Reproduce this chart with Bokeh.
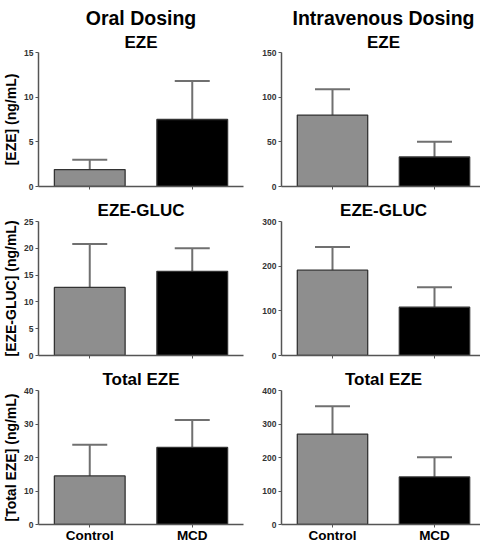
from bokeh.plotting import figure
from bokeh.layouts import gridplot
from bokeh.models import ColumnDataSource, Whisker, TeeHead, Title, FactorRange, Range1d, FixedTicker
from bokeh.embed import file_html
from bokeh.resources import INLINE

groups = ["Control", "MCD"]
bar_colors = ["#8e8e8e", "#000000"]

col_titles = ["Oral Dosing", "Intravenous Dosing"]
panel_titles = ["EZE", "EZE-GLUC", "Total EZE"]
y_labels = ["[EZE] (ng/mL)", "[EZE-GLUC] (ng/mL)", "[Total EZE] (ng/mL)"]

oral_eze_mean = [1.9, 7.5]
oral_eze_upper = [3.0, 11.8]
iv_eze_mean = [80, 33]
iv_eze_upper = [109, 50]
oral_gluc_mean = [12.7, 15.7]
oral_gluc_upper = [20.8, 20.0]
iv_gluc_mean = [191, 108]
iv_gluc_upper = [243, 153]
oral_total_mean = [14.5, 23.0]
oral_total_upper = [23.8, 31.2]
iv_total_mean = [270, 142]
iv_total_upper = [353, 201]

oral_eze_ticks = [0, 5, 10, 15]
iv_eze_ticks = [0, 50, 100, 150]
oral_gluc_ticks = [0, 5, 10, 15, 20, 25]
iv_gluc_ticks = [0, 100, 200, 300]
oral_total_ticks = [0, 10, 20, 30, 40]
iv_total_ticks = [0, 100, 200, 300, 400]

FONT = "Liberation Sans"
AX = "#555555"
ERR = "#707070"

FRAME_W = [205, 204]
BORDER_L = [33, 36]
BORDER_R = [2, 0]
FRAME_H = 134
TOP_B = [52, 28, 27]
BOT_B = [7, 8, 16]
TITLE_STANDOFF = [1, 4, 3]


def make_panel(mean, upper, ticks, title, row, col, col_title=None, ylabel=None, show_x=False):
    p = figure(frame_width=FRAME_W[col], frame_height=FRAME_H,
               x_range=FactorRange(factors=groups),
               y_range=Range1d(ticks[0], ticks[-1]), output_backend="svg",
               toolbar_location=None, title=col_title if col_title else title,
               min_border_left=BORDER_L[col], min_border_right=BORDER_R[col],
               min_border_top=TOP_B[row], min_border_bottom=BOT_B[row])
    p.title.align = "center"
    p.title.text_font = FONT
    p.title.text_font_style = "bold"
    p.title.text_color = "#000000"
    if col_title:
        p.title.text_font_size = "19.5px"
        p.title.standoff = 0
        p.title.vertical_align = "top"
        t = Title(text=title, align="center", text_font=FONT, text_font_style="bold",
                  text_font_size="17px", text_color="#000000",
                  standoff=TITLE_STANDOFF[row])
        p.add_layout(t, "above")
    else:
        p.title.text_font_size = "17px"
        p.title.standoff = TITLE_STANDOFF[row]
    p.outline_line_color = None
    p.xgrid.grid_line_color = None
    p.ygrid.grid_line_color = None
    p.background_fill_color = "white"
    p.border_fill_color = "white"

    src = ColumnDataSource(dict(x=groups, top=mean, upper=upper, color=bar_colors))
    p.vbar(x="x", top="top", bottom=0, width=0.69, source=src, fill_color="color",
           line_color="#333333", line_width=1.3)
    wh = Whisker(source=src, base="x", upper="upper", lower="top", dimension="height",
                 line_color=ERR, line_width=2,
                 upper_head=TeeHead(size=35, line_color=ERR, line_width=2),
                 lower_head=None)
    p.add_layout(wh)

    ya = p.yaxis[0]
    ya.ticker = FixedTicker(ticks=ticks)
    ya.axis_line_color = AX
    ya.axis_line_width = 1.5
    ya.major_tick_line_color = AX
    ya.major_tick_in = 0
    ya.major_tick_out = 3
    ya.minor_tick_line_color = None
    ya.major_label_text_font = FONT
    ya.major_label_text_font_style = "bold"
    ya.major_label_text_font_size = "8.5px"
    ya.major_label_text_color = "#333333"
    ya.major_label_standoff = 2
    if ylabel:
        ya.axis_label = ylabel
        ya.axis_label_text_font = FONT
        ya.axis_label_text_font_style = "bold"
        ya.axis_label_text_font_size = "14px"
        ya.axis_label_text_color = "#000000"
        ya.axis_label_standoff = 2

    xa = p.xaxis[0]
    xa.axis_line_color = AX
    xa.axis_line_width = 1.5
    xa.major_tick_line_color = AX
    xa.major_tick_in = 0
    xa.major_tick_out = 3
    xa.minor_tick_line_color = None
    xa.major_label_text_font = FONT
    xa.major_label_text_font_style = "bold"
    xa.major_label_text_font_size = "13.5px"
    xa.major_label_standoff = 0
    if show_x:
        xa.major_label_text_color = "#000000"
    else:
        xa.major_label_text_color = None
    return p


p1 = make_panel(oral_eze_mean, oral_eze_upper, oral_eze_ticks, panel_titles[0], 0, 0,
                col_title=col_titles[0], ylabel=y_labels[0])
p2 = make_panel(iv_eze_mean, iv_eze_upper, iv_eze_ticks, panel_titles[0], 0, 1,
                col_title=col_titles[1])
p3 = make_panel(oral_gluc_mean, oral_gluc_upper, oral_gluc_ticks, panel_titles[1], 1, 0,
                ylabel=y_labels[1])
p4 = make_panel(iv_gluc_mean, iv_gluc_upper, iv_gluc_ticks, panel_titles[1], 1, 1)
p5 = make_panel(oral_total_mean, oral_total_upper, oral_total_ticks, panel_titles[2], 2, 0,
                ylabel=y_labels[2], show_x=True)
p6 = make_panel(iv_total_mean, iv_total_upper, iv_total_ticks, panel_titles[2], 2, 1,
                show_x=True)

grid = gridplot([[p1, p2], [p3, p4], [p5, p6]], toolbar_location=None)

open("out.html", "w").write(file_html(grid, INLINE))
